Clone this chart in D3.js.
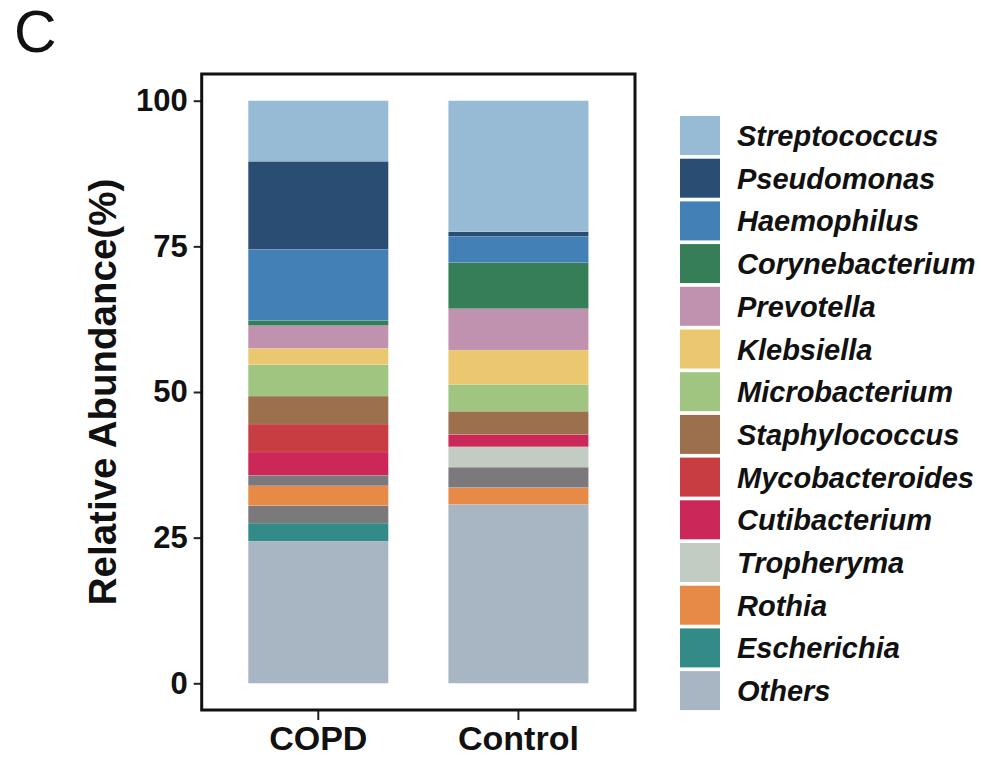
<!DOCTYPE html>
<html>
<head>
<meta charset="utf-8">
<script src="https://cdn.jsdelivr.net/npm/d3@7"></script>
<style>
  body { margin: 0; background: #fff; }
  text { font-family: "Liberation Sans", Arial, Helvetica, sans-serif; fill: #111; }
</style>
</head>
<body>
<div id="chart"></div>
<script>
// groups on the x axis
var groups = ["COPD", "Control"];

// stack order, bottom to top (the two grey bands have no legend entry in the figure)
var stackKeys = ["Others", "Escherichia", "grey_low", "Rothia", "grey_high", "Tropheryma",
  "Cutibacterium", "Mycobacteroides", "Staphylococcus", "Microbacterium", "Klebsiella",
  "Prevotella", "Corynebacterium", "Haemophilus", "Pseudomonas", "Streptococcus"];

// relative abundance (%) per key, same order as stackKeys
var copdValues    = [24.4, 3.1, 3.0, 3.4, 1.8, 0.0, 4.0, 4.8, 4.8, 5.4, 2.8, 3.9, 0.9, 12.2, 15.1, 10.4];
var controlValues = [30.7, 0.0, 0.0, 2.9, 3.5, 3.5, 2.1, 0.0, 4.0, 4.6, 5.9, 7.1, 7.9, 4.5, 0.8, 22.5];

// legend, top to bottom
var legendNames = ["Streptococcus", "Pseudomonas", "Haemophilus", "Corynebacterium", "Prevotella",
  "Klebsiella", "Microbacterium", "Staphylococcus", "Mycobacteroides", "Cutibacterium",
  "Tropheryma", "Rothia", "Escherichia", "Others"];

var yTicks = [0, 25, 50, 75, 100];

var colors = {
  Streptococcus: "#97bbd5", Pseudomonas: "#2a4d73", Haemophilus: "#4380b6",
  Corynebacterium: "#367e57", Prevotella: "#c092b0", Klebsiella: "#ebc870",
  Microbacterium: "#9fc580", Staphylococcus: "#9c6f4d", Mycobacteroides: "#c83d41",
  Cutibacterium: "#cc2759", Tropheryma: "#c3ccc2", Rothia: "#e88a47",
  Escherichia: "#348a86", Others: "#a8b5c3", grey_low: "#7b797c", grey_high: "#7b797c"
};

var width = 982, height = 757;

var svg = d3.select("#chart").append("svg")
    .attr("width", width)
    .attr("height", height);

// build rows for d3.stack from the arrays
var rows = groups.map(function(g, i) {
  var vals = i === 0 ? copdValues : controlValues;
  var row = { group: g };
  stackKeys.forEach(function(k, j) { row[k] = vals[j]; });
  return row;
});

var series = d3.stack().keys(stackKeys)(rows);

// frame of the plot
var frame = { left: 201.7, right: 635, top: 74, bottom: 710 };

var x = d3.scaleBand()
    .domain(groups)
    .range([frame.left, frame.right])
    .paddingInner(0.3)
    .paddingOuter(0.2325);

var y = d3.scaleLinear()
    .domain([0, 100])
    .range([683.3, 100.7]);

// bars
svg.append("g").selectAll("g")
  .data(series)
  .enter().append("g")
    .attr("fill", function(d) { return colors[d.key]; })
  .selectAll("rect")
  .data(function(d) { return d; })
  .enter().append("rect")
    .attr("x", function(d) { return x(d.data.group); })
    .attr("width", x.bandwidth())
    .attr("y", function(d) { return y(d[1]); })
    .attr("height", function(d) { return y(d[0]) - y(d[1]); })
    .attr("stroke", "#fff")
    .attr("stroke-width", 0.5)
    .attr("stroke-opacity", 0.2);

// y axis
var yAxis = svg.append("g")
    .attr("transform", "translate(" + frame.left + ",0)")
    .call(d3.axisLeft(y).tickValues(yTicks).tickSize(8).tickPadding(6));
yAxis.select(".domain").remove();
yAxis.selectAll(".tick line").attr("stroke", "#222").attr("stroke-width", 2);
yAxis.selectAll(".tick text")
    .style("font-size", "31px").style("font-weight", "bold").attr("fill", "#111");

// x axis
var xAxis = svg.append("g")
    .attr("transform", "translate(0," + frame.bottom + ")")
    .call(d3.axisBottom(x).tickSize(10).tickPadding(6));
xAxis.select(".domain").remove();
xAxis.selectAll(".tick line").attr("stroke", "#222").attr("stroke-width", 2);
xAxis.selectAll(".tick text")
    .style("font-size", "34px").style("font-weight", "bold").attr("fill", "#111");

// box around the plot
svg.append("rect")
    .attr("x", frame.left)
    .attr("y", frame.top)
    .attr("width", frame.right - frame.left)
    .attr("height", frame.bottom - frame.top)
    .attr("fill", "none")
    .attr("stroke", "#111")
    .attr("stroke-width", 3);

// y axis title
svg.append("text")
    .attr("transform", "translate(116," + y(50) + ") rotate(-90)")
    .attr("text-anchor", "middle")
    .style("font-size", "38.5px")
    .style("font-weight", "bold")
    .text("Relative Abundance(%)");

// panel letter
svg.append("text")
    .attr("x", 14)
    .attr("y", 52)
    .style("font-size", "59px")
    .text("C");

// legend
var legend = svg.append("g").attr("transform", "translate(680,116)");
var item = legend.selectAll("g")
  .data(legendNames)
  .enter().append("g")
    .attr("transform", function(d, i) { return "translate(0," + i * 42.7 + ")"; });

item.append("rect")
    .attr("width", 40)
    .attr("height", 39)
    .attr("fill", function(d) { return colors[d]; });

item.append("text")
    .attr("x", 57)
    .attr("y", 30)
    .style("font-size", "29px")
    .style("font-weight", "bold")
    .style("font-style", "italic")
    .text(function(d) { return d; });
</script>
</body>
</html>
